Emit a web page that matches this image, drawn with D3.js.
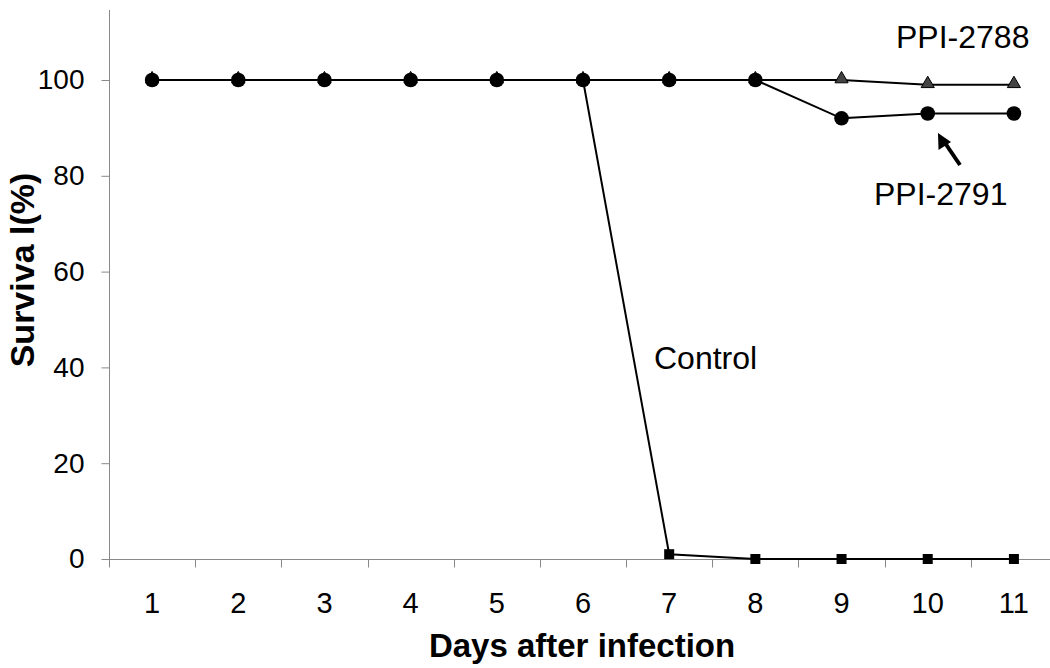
<!DOCTYPE html>
<html>
<head>
<meta charset="utf-8">
<script src="https://cdn.jsdelivr.net/npm/d3@7"></script>
<style>
  body { margin: 0; background: #fff; }
  text { font-family: "Liberation Sans", Arial, sans-serif; }
</style>
</head>
<body>
<script>
var g_width = 1050
var g_height = 668

var days = [1, 2, 3, 4, 5, 6, 7, 8, 9, 10, 11]
var control = [100, 100, 100, 100, 100, 100, 1, 0, 0, 0, 0]
var ppi2788 = [100, 100, 100, 100, 100, 100, 100, 100, 100, 99, 99]
var ppi2791 = [100, 100, 100, 100, 100, 100, 100, 100, 92, 93, 93]
var yTicks = [0, 20, 40, 60, 80, 100]

var svg = d3.select("body").append("svg")
    .attr("width", g_width)
    .attr("height", g_height)

// band scale like excel category axis (right end runs off the image)
var xScale = d3.scaleBand().domain(days).range([109, 1057])
var yScale = d3.scaleLinear().domain([0, 100]).range([559, 80])

var xc = function(d, i) { return xScale(days[i]) + xScale.bandwidth() / 2 }

// y axis
var yAxis = svg.append("g")
    .attr("transform", "translate(109.5,0)")
    .call(d3.axisLeft(yScale).tickValues(yTicks).tickSize(8).tickPadding(17))
yAxis.select(".domain").attr("d", "M0,10V559.5")
yAxis.selectAll(".tick line").attr("stroke", "#888")
yAxis.selectAll(".tick text").attr("font-size", 28).attr("fill", "#000")
    .attr("font-family", "Liberation Sans, Arial, sans-serif")

// x axis, ticks between categories
var xAxis = svg.append("g")
    .attr("transform", "translate(0,559.5)")
    .call(d3.axisBottom(xScale).tickSize(0).tickPadding(33))
xAxis.select(".domain").attr("d", "M109,0H1050")
xAxis.selectAll(".tick text").attr("font-size", 29).attr("fill", "#000")
    .attr("font-family", "Liberation Sans, Arial, sans-serif")
xAxis.selectAll(".sep").data(days).enter().append("line")
    .attr("x1", function(d) { return Math.round(xScale(d)) + 0.5 })
    .attr("x2", function(d) { return Math.round(xScale(d)) + 0.5 })
    .attr("y1", 0).attr("y2", 8)
    .attr("stroke", "#888")
svg.selectAll(".domain").attr("stroke", "#888")

// axis titles
svg.append("text")
    .attr("x", 582).attr("y", 657)
    .attr("text-anchor", "middle")
    .attr("font-size", 33).attr("font-weight", "bold")
    .text("Days after infection")
svg.append("text")
    .attr("transform", "translate(34,270) rotate(-90)")
    .attr("text-anchor", "middle")
    .attr("font-size", 34).attr("font-weight", "bold")
    .text("Surviva l(%)")

var line = d3.line().x(xc).y(function(d) { return yScale(d) })

function drawSeries(values) {
    svg.append("path")
        .attr("d", line(values))
        .attr("fill", "none")
        .attr("stroke", "#000")
        .attr("stroke-width", 2)
}

// control, squares
drawSeries(control)
svg.selectAll(".sq").data(control).enter().append("rect")
    .attr("x", function(d, i) { return xc(d, i) - 5 })
    .attr("y", function(d) { return yScale(d) - 5 })
    .attr("width", 10).attr("height", 10)
    .attr("fill", "#000")

// PPI-2788, triangles
drawSeries(ppi2788)
var tri = d3.symbol().type(d3.symbolTriangle).size(75)
svg.selectAll(".tri").data(ppi2788).enter().append("path")
    .attr("d", tri)
    .attr("transform", function(d, i) { return "translate(" + xc(d, i) + "," + (yScale(d) - 1) + ")" })
    .attr("fill", "#444").attr("stroke", "#000").attr("stroke-width", 1)

// PPI-2791, circles
drawSeries(ppi2791)
svg.selectAll(".dot").data(ppi2791).enter().append("circle")
    .attr("cx", xc)
    .attr("cy", function(d) { return yScale(d) })
    .attr("r", 7.3)
    .attr("fill", "#000")

// labels
svg.append("text").attr("x", 896).attr("y", 48).attr("font-size", 32).text("PPI-2788")
svg.append("text").attr("x", 874).attr("y", 205).attr("font-size", 32).text("PPI-2791")
svg.append("text").attr("x", 654).attr("y", 369).attr("font-size", 32).text("Control")

// arrow to PPI-2791
svg.append("line")
    .attr("x1", 960).attr("y1", 165).attr("x2", 943).attr("y2", 140)
    .attr("stroke", "#000").attr("stroke-width", 4)
svg.append("path")
    .attr("d", "M938,133 L938.5,150 L951,142 Z")
    .attr("fill", "#000")
</script>
</body>
</html>
